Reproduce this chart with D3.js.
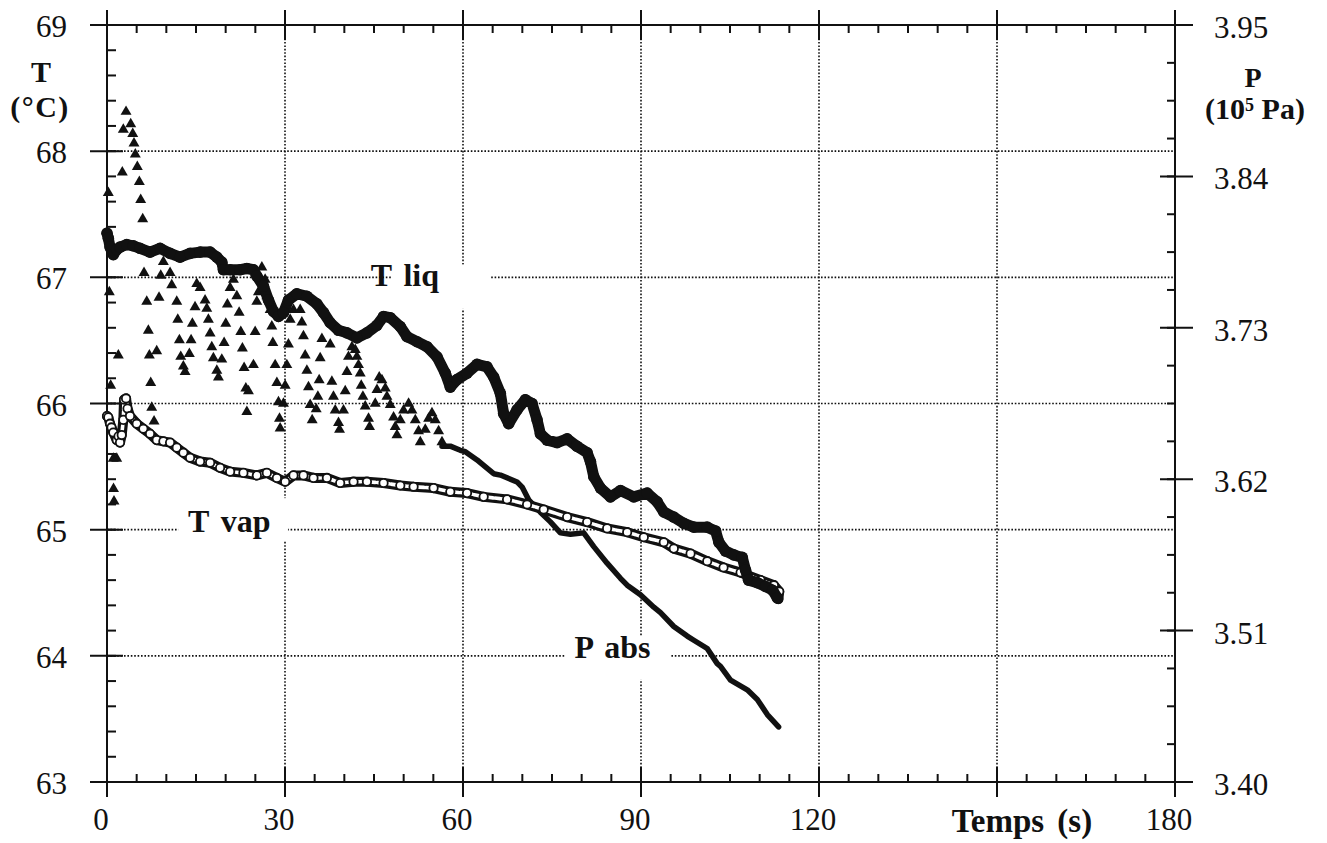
<!DOCTYPE html>
<html><head><meta charset="utf-8">
<script src="https://cdn.jsdelivr.net/npm/d3@7"></script>
<style>body{margin:0;background:#fff}svg{display:block}</style>
</head><body>
<svg id="c" width="1327" height="843"></svg>
<script>
// ---- data ----
const timeTicks = [0, 30, 60, 90, 120, 150, 180];
const timeTickLabels = ["0", "30", "60", "90", "120", "", "180"];
const tempTicks = [63, 64, 65, 66, 67, 68, 69];
const presTicks = [3.40, 3.51, 3.62, 3.73, 3.84, 3.95];
const presTickLabels = ["3.40", "3.51", "3.62", "3.73", "3.84", "3.95"];

// T liq (s, °C) filled circles
const tLiq = [[0.0,67.35],[0.22,67.31],[0.51,67.24],[1.06,67.18],[1.64,67.22],[2.19,67.24],[3.32,67.26],[4.44,67.25],[5.57,67.23],[7.25,67.20],[8.94,67.23],[10.63,67.19],[12.31,67.16],[14.00,67.19],[15.69,67.20],[17.38,67.20],[18.51,67.16],[19.35,67.12],[19.62,67.06],[20.75,67.06],[22.44,67.06],[23.57,67.07],[24.68,67.06],[25.25,67.01],[26.37,66.93],[27.21,66.82],[28.05,66.73],[28.90,66.69],[29.74,66.72],[30.58,66.82],[32.00,66.87],[33.69,66.85],[35.37,66.79],[36.49,66.72],[37.62,66.64],[39.02,66.58],[40.44,66.56],[42.12,66.52],[43.81,66.56],[45.50,66.62],[46.61,66.69],[47.74,66.68],[49.43,66.61],[50.56,66.53],[52.24,66.49],[53.93,66.45],[55.62,66.37],[57.02,66.24],[57.86,66.13],[58.99,66.19],[60.68,66.24],[62.37,66.31],[64.05,66.29],[65.17,66.21],[66.30,66.08],[66.85,65.92],[67.70,65.84],[69.11,65.95],[70.51,66.03],[71.64,66.00],[72.49,65.87],[73.04,65.76],[74.17,65.71],[75.86,65.69],[77.55,65.72],[79.23,65.66],[80.92,65.61],[81.48,65.54],[82.04,65.42],[83.17,65.33],[84.85,65.26],[86.54,65.31],[88.78,65.26],[91.04,65.29],[92.73,65.22],[93.84,65.14],[95.53,65.10],[97.22,65.05],[98.90,65.02],[101.16,65.02],[102.57,64.99],[103.12,64.90],[104.25,64.83],[105.65,64.80],[107.07,64.78],[107.62,64.68],[108.13,64.60],[109.60,64.58],[111.00,64.55],[112.18,64.52],[112.97,64.46]];

// T vap (s, °C) open circles
const tVap = [[0.0,65.90],[0.22,65.89],[0.51,65.84],[0.76,65.81],[1.06,65.77],[1.64,65.71],[1.94,65.74],[2.19,65.69],[2.48,65.75],[2.75,65.87],[2.87,66.03],[3.21,66.04],[3.46,65.96],[3.88,65.90],[5.01,65.84],[6.12,65.80],[7.25,65.76],[8.38,65.71],[9.50,65.70],[10.63,65.69],[11.76,65.65],[12.87,65.61],[14.00,65.57],[15.69,65.54],[17.38,65.53],[19.06,65.49],[20.75,65.46],[22.99,65.45],[25.25,65.43],[26.94,65.45],[28.63,65.41],[30.03,65.38],[31.43,65.43],[33.11,65.43],[34.80,65.41],[37.06,65.41],[39.30,65.37],[41.55,65.38],[43.81,65.38],[46.61,65.37],[49.43,65.35],[51.67,65.34],[55.04,65.33],[57.86,65.30],[60.68,65.29],[63.48,65.26],[67.43,65.24],[70.80,65.20],[73.60,65.16],[77.55,65.10],[80.92,65.06],[84.29,65.01],[87.67,64.98],[90.47,64.94],[93.84,64.90],[95.53,64.85],[98.35,64.81],[101.16,64.75],[103.91,64.70],[106.78,64.66],[110.16,64.60],[112.40,64.56],[113.30,64.51],[113.15,64.45]];

// P abs (s, 1e5 Pa) triangles, oscillating part
const pTri = [[0.22,3.828],[0.39,3.756],[0.62,3.688],[1.06,3.635],[1.10,3.613],[1.18,3.604],[1.64,3.635],[1.91,3.710],[2.58,3.843],[2.75,3.874],[3.21,3.887],[4.00,3.878],[4.34,3.871],[4.55,3.864],[4.77,3.856],[5.11,3.847],[5.45,3.836],[5.68,3.823],[6.02,3.809],[6.24,3.770],[6.70,3.749],[6.97,3.728],[7.14,3.710],[7.37,3.690],[7.54,3.672],[7.93,3.662],[8.38,3.713],[8.77,3.752],[9.06,3.768],[9.50,3.778],[10.63,3.770],[10.91,3.761],[11.76,3.749],[11.93,3.736],[12.20,3.721],[12.43,3.709],[12.87,3.702],[13.16,3.698],[13.88,3.711],[14.17,3.721],[14.39,3.733],[14.84,3.745],[15.13,3.762],[15.69,3.759],[16.53,3.750],[16.82,3.744],[17.09,3.736],[17.38,3.726],[17.66,3.716],[17.93,3.708],[18.51,3.699],[18.78,3.694],[19.35,3.707],[19.74,3.719],[20.02,3.733],[20.29,3.747],[20.75,3.759],[21.31,3.765],[21.88,3.753],[22.27,3.741],[22.55,3.727],[22.82,3.715],[23.11,3.701],[23.40,3.686],[23.57,3.669],[23.84,3.684],[24.68,3.703],[24.97,3.727],[25.25,3.749],[25.52,3.756],[26.10,3.774],[26.65,3.765],[26.94,3.753],[27.50,3.743],[27.78,3.731],[27.95,3.719],[28.34,3.703],[28.63,3.690],[28.90,3.676],[29.07,3.664],[29.18,3.657],[29.74,3.675],[30.03,3.688],[30.31,3.703],[30.58,3.718],[30.87,3.736],[31.43,3.743],[32.56,3.743],[32.84,3.734],[33.11,3.724],[33.40,3.710],[33.69,3.699],[33.96,3.687],[34.24,3.674],[34.58,3.663],[35.26,3.671],[35.54,3.680],[35.76,3.692],[35.93,3.708],[36.22,3.722],[37.62,3.718],[37.90,3.691],[38.17,3.680],[38.46,3.670],[39.02,3.661],[39.19,3.656],[39.86,3.670],[40.15,3.684],[40.44,3.698],[40.70,3.709],[41.28,3.716],[41.84,3.714],[42.12,3.709],[42.39,3.703],[42.68,3.697],[42.85,3.688],[43.13,3.680],[43.52,3.673],[44.08,3.664],[44.25,3.658],[45.21,3.675],[45.50,3.685],[45.88,3.694],[46.34,3.692],[46.90,3.686],[47.18,3.680],[47.74,3.674],[48.30,3.665],[48.58,3.658],[48.87,3.652],[49.43,3.663],[49.98,3.670],[50.83,3.675],[51.40,3.670],[51.96,3.663],[52.51,3.655],[52.80,3.647],[53.64,3.656],[54.20,3.664],[54.77,3.668],[55.33,3.663],[55.89,3.655],[56.46,3.647]];

// P abs (s, 1e5 Pa) dense part, drawn as continuous trace
const pLine = [[56.46,3.644],[57.86,3.644],[59.55,3.641],[60.39,3.640],[62.37,3.634],[62.92,3.632],[65.17,3.624],[66.30,3.623],[69.11,3.618],[70.01,3.614],[71.07,3.605],[73.04,3.596],[74.73,3.589],[76.42,3.581],[78.11,3.580],[80.35,3.581],[82.04,3.571],[84.29,3.559],[86.54,3.548],[87.67,3.543],[89.91,3.536],[92.16,3.527],[93.29,3.523],[95.53,3.513],[97.79,3.506],[98.90,3.503],[101.16,3.497],[102.85,3.486],[103.40,3.484],[105.09,3.474],[107.91,3.467],[109.60,3.460],[111.29,3.449],[113.19,3.440]];

const seriesLabels = [
  {text: "T liq", t: 50.2, T: 66.93, box: [48.0, 64.6, 66.75, 67.1]},
  {text: "T vap", t: 20.6, T: 64.98, box: [12.0, 30.5, 64.91, 65.25]},
  {text: "P abs", t: 85.2, T: 63.98, box: [77.3, 95.0, 63.81, 64.15]}
];

// ---- drawing ----
const svg = d3.select("#c");
const X0 = 107, X1 = 1175, Y0 = 782, Y1 = 25;
const x = d3.scaleLinear().domain([0, 180]).range([X0, X1]);
const yT = d3.scaleLinear().domain([63, 69]).range([Y0, Y1]);
const yP = d3.scaleLinear().domain([3.40, 3.95]).range([Y0, Y1]);
const ink = "#111";
const serif = "'Liberation Serif','Times New Roman',Times,serif";

// grid (dotted)
const grid = svg.append("g").attr("stroke", ink).attr("stroke-width", 1.6).attr("stroke-dasharray", "1.6,1.8");
tempTicks.slice(1, -1).forEach(v => grid.append("line").attr("x1", X0).attr("x2", X1).attr("y1", yT(v)).attr("y2", yT(v)));
timeTicks.slice(1, -1).forEach(v => grid.append("line").attr("x1", x(v)).attr("x2", x(v)).attr("y1", Y1).attr("y2", Y0));

// label boxes (white, breaking the grid)
seriesLabels.forEach(l => {
  svg.append("rect").attr("x", x(l.box[0])).attr("width", x(l.box[1]) - x(l.box[0]))
    .attr("y", yT(l.box[3])).attr("height", yT(l.box[2]) - yT(l.box[3])).attr("fill", "#fff");
});

// frame & ticks
const ax = svg.append("g").attr("stroke", ink).attr("stroke-width", 2).attr("fill", "none");
ax.append("line").attr("x1", X0).attr("x2", X0).attr("y1", Y1 - 15).attr("y2", Y0 + 15);
ax.append("line").attr("x1", X1).attr("x2", X1).attr("y1", Y1 - 15).attr("y2", Y0 + 15);
ax.append("line").attr("x1", X0 - 17).attr("x2", X1 + 18).attr("y1", Y1).attr("y2", Y1);
ax.append("line").attr("x1", X0 - 17).attr("x2", X1 + 18).attr("y1", Y0).attr("y2", Y0);
tempTicks.forEach(v => ax.append("line").attr("x1", X0 - 17).attr("x2", X0 + 16).attr("y1", yT(v)).attr("y2", yT(v)));
d3.range(63, 69, 0.2).forEach(v => ax.append("line").attr("x1", X0).attr("x2", X0 + 9).attr("y1", yT(v)).attr("y2", yT(v)));
presTicks.forEach(v => ax.append("line").attr("x1", X1 - 15).attr("x2", X1 + 18).attr("y1", yP(v)).attr("y2", yP(v)));
d3.range(0, 20).forEach(i => { const v = 3.40 + i * 0.0275; ax.append("line").attr("x1", X1 - 8).attr("x2", X1).attr("y1", yP(v)).attr("y2", yP(v)); });
timeTicks.forEach(v => {
  ax.append("line").attr("x1", x(v)).attr("x2", x(v)).attr("y1", Y0 - 15).attr("y2", Y0 + 15);
  ax.append("line").attr("x1", x(v)).attr("x2", x(v)).attr("y1", Y1 - 15).attr("y2", Y1 + 15);
});
d3.range(0, 180, 5).forEach(v => {
  ax.append("line").attr("x1", x(v)).attr("x2", x(v)).attr("y1", Y0 - 8).attr("y2", Y0);
  ax.append("line").attr("x1", x(v)).attr("x2", x(v)).attr("y1", Y1).attr("y2", Y1 + 8);
});

// tick labels
const tl = svg.append("g").attr("font-family", serif).attr("font-size", 31).attr("fill", ink);
tempTicks.forEach(v => tl.append("text").attr("x", 67).attr("y", yT(v) + 12).attr("text-anchor", "end").text(v));
timeTicks.forEach((v, i) => { if (timeTickLabels[i]) tl.append("text").attr("x", x(v) - 6).attr("y", 830).attr("text-anchor", "middle").text(timeTickLabels[i]); });
presTicks.forEach((v, i) => tl.append("text").attr("x", 1214).attr("y", yP(v) + 13).text(presTickLabels[i]));

// axis titles
const tt = svg.append("g").attr("font-family", serif).attr("font-weight", "bold").attr("font-size", 30).attr("fill", ink).attr("text-anchor", "middle");
tt.append("text").attr("x", 41).attr("y", 82).text("T");
tt.append("text").attr("x", 40).attr("y", 117).attr("letter-spacing", 1.5).text("(°C)");
tt.append("text").attr("x", 1253).attr("y", 87).attr("font-size", 28).text("P");
const pu = tt.append("text").attr("x", 1255).attr("y", 119).attr("font-size", 30);
pu.append("tspan").text("(10");
pu.append("tspan").attr("font-size", 18).attr("dy", -8).text("5");
pu.append("tspan").attr("dy", 8).text(" Pa)");
tt.append("text").attr("x", 1022).attr("y", 832).attr("font-size", 33).attr("word-spacing", 5).text("Temps (s)");

// ---- series ----
const lineT = d3.line().x(d => x(d[0])).y(d => yT(d[1]));
const lineP = d3.line().x(d => x(d[0])).y(d => yP(d[1]));

svg.append("path").attr("d", lineP(pLine)).attr("fill", "none").attr("stroke", ink)
  .attr("stroke-width", 5.5).attr("stroke-linejoin", "round").attr("stroke-linecap", "round");
const tri = d3.symbol().type(d3.symbolTriangle).size(52);
svg.append("g").selectAll("path").data(pTri).join("path")
  .attr("d", tri).attr("transform", d => `translate(${x(d[0])},${yP(d[1])})`).attr("fill", ink);

// T vap: chain of open circles
svg.append("path").attr("d", lineT(tVap)).attr("fill", "none").attr("stroke", ink)
  .attr("stroke-width", 10).attr("stroke-linejoin", "round").attr("stroke-linecap", "round");
svg.append("path").attr("d", lineT(tVap)).attr("fill", "none").attr("stroke", "#fff")
  .attr("stroke-width", 3.6).attr("stroke-linejoin", "round").attr("stroke-linecap", "round")
  .attr("stroke-dasharray", "5,2");
svg.append("g").selectAll("circle").data(tVap).join("circle")
  .attr("cx", d => x(d[0])).attr("cy", d => yT(d[1])).attr("r", 4.2)
  .attr("fill", "#fff").attr("stroke", ink).attr("stroke-width", 1.8);

// T liq: dense filled circles
svg.append("path").attr("d", lineT(tLiq)).attr("fill", "none").attr("stroke", ink)
  .attr("stroke-width", 11).attr("stroke-linejoin", "round").attr("stroke-linecap", "round");
svg.append("g").selectAll("circle").data(tLiq).join("circle")
  .attr("cx", d => x(d[0])).attr("cy", d => yT(d[1])).attr("r", 5.8).attr("fill", ink);

// series labels
const sl = svg.append("g").attr("font-family", serif).attr("font-weight", "bold").attr("font-size", 32).attr("fill", ink).attr("text-anchor", "middle");
seriesLabels.forEach(l => sl.append("text").attr("x", x(l.t)).attr("y", yT(l.T)).attr("word-spacing", 4).text(l.text));
</script>
</body></html>
